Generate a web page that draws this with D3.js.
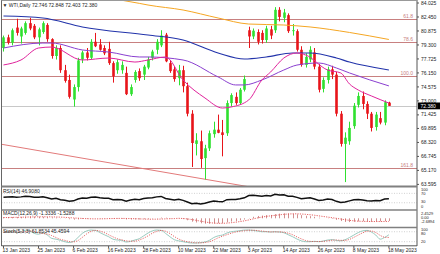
<!DOCTYPE html>
<html>
<head>
<meta charset="utf-8">
<script src="https://cdn.jsdelivr.net/npm/d3@7"></script>
<style>
  html, body { margin: 0; padding: 0; background: #fff; }
  svg { display: block; font-family: "Liberation Sans", Arial, sans-serif; }
</style>
</head>
<body>
<div id="chart"></div>
<script>
// daily bars, WTI
const dates = [
  '2023-01-13','2023-01-16','2023-01-17','2023-01-18','2023-01-19','2023-01-20','2023-01-23','2023-01-24','2023-01-25','2023-01-26',
  '2023-01-27','2023-01-30','2023-01-31','2023-02-01','2023-02-02','2023-02-03','2023-02-06','2023-02-07','2023-02-08','2023-02-09',
  '2023-02-10','2023-02-13','2023-02-14','2023-02-15','2023-02-16','2023-02-17','2023-02-20','2023-02-21','2023-02-22','2023-02-23',
  '2023-02-24','2023-02-27','2023-02-28','2023-03-01','2023-03-02','2023-03-03','2023-03-06','2023-03-07','2023-03-08','2023-03-09',
  '2023-03-10','2023-03-13','2023-03-14','2023-03-15','2023-03-16','2023-03-17','2023-03-20','2023-03-21','2023-03-22','2023-03-23',
  '2023-03-24','2023-03-27','2023-03-28','2023-03-29','2023-03-30','2023-03-31','2023-04-03','2023-04-04','2023-04-05','2023-04-06',
  '2023-04-10','2023-04-11','2023-04-12','2023-04-13','2023-04-14','2023-04-17','2023-04-18','2023-04-19','2023-04-20','2023-04-21',
  '2023-04-24','2023-04-25','2023-04-26','2023-04-27','2023-04-28','2023-05-01','2023-05-02','2023-05-03','2023-05-04','2023-05-05',
  '2023-05-08','2023-05-09','2023-05-10','2023-05-11','2023-05-12','2023-05-15','2023-05-16','2023-05-17','2023-05-18'
];
const opens = [
  78.9,80.1,79.5,81.2,80.2,80.6,81.7,81.4,80.1,80.7,
  81.5,79.9,78.0,78.9,76.4,75.3,73.1,74.5,77.6,78.4,
  77.8,79.6,79.3,78.9,78.8,77.2,76.4,76.4,76.1,73.7,
  75.3,76.3,75.9,76.7,77.8,78.7,79.2,80.4,77.2,76.5,
  75.5,76.4,74.6,71.5,68.1,68.4,66.5,67.6,69.2,69.7,
  69.4,69.3,72.7,73.4,72.7,74.2,80.9,80.2,80.7,80.6,
  79.8,81.0,80.9,83.2,82.3,82.6,80.8,80.8,78.7,77.0,
  77.6,78.4,76.8,74.3,75.3,76.5,75.9,71.5,68.1,68.4,
  70.1,72.5,73.5,72.6,71.5,70.0,71.0,70.5,72.746
];
const highs = [
  80.3,80.4,81.1,82.2,81.3,81.9,82.3,81.6,81.2,81.9,
  81.7,80.0,79.2,79.2,77.0,75.9,74.8,77.8,78.6,78.9,
  79.9,80.6,79.9,79.2,79.6,77.4,77.6,77.4,76.8,74.8,
  76.4,76.6,77.0,77.9,78.7,79.9,80.9,80.6,77.5,76.8,
  77.0,76.9,75.0,71.9,69.3,69.6,68.0,69.6,70.6,71.4,
  70.8,73.0,73.8,73.9,74.4,75.8,81.3,81.1,81.0,80.9,
  81.4,81.4,83.5,83.5,83.3,82.8,81.6,81.0,79.1,78.3,
  79.1,78.9,77.1,75.6,76.8,76.9,76.2,71.8,69.4,70.6,
  72.7,73.9,74.0,72.9,71.7,71.7,71.7,73.0,72.848
];
const lows = [
  78.5,79.3,79.2,80.3,79.4,80.4,80.9,79.9,79.2,80.5,
  79.6,77.7,77.6,76.1,75.0,73.2,72.3,74.0,77.2,77.5,
  77.6,79.0,78.6,78.1,77.0,75.0,76.0,76.0,73.6,73.5,
  75.0,75.2,75.3,76.5,77.5,78.2,79.0,77.3,76.1,75.1,
  74.7,73.9,71.2,65.5,66.8,65.4,64.1,67.3,68.8,69.3,
  66.7,69.0,72.3,72.5,72.5,74.0,78.9,79.9,79.3,79.4,
  79.5,79.9,80.6,81.9,81.8,80.6,80.3,78.5,76.8,76.7,
  77.3,76.5,73.9,73.9,74.9,75.4,71.2,67.8,63.8,68.0,
  69.8,72.2,72.0,70.9,69.5,69.6,70.3,70.2,72.403
];
const closes = [
  80.1,79.5,80.9,80.6,81.1,81.7,81.1,80.1,81.0,81.7,
  79.9,78.0,78.9,76.4,75.2,73.4,74.5,77.5,78.4,77.8,
  79.6,79.1,78.7,78.3,77.2,75.7,77.3,77.0,73.7,74.5,
  76.2,75.5,76.8,77.6,78.5,79.6,80.3,77.4,76.3,75.4,
  76.4,74.6,71.5,68.2,68.5,66.4,67.6,69.3,69.7,69.35,
  69.1,72.7,73.6,72.7,74.2,75.4,80.2,80.85,79.6,79.8,
  81.1,80.3,83.2,82.4,82.9,80.8,80.9,78.7,77.0,77.9,
  78.7,76.8,74.2,75.3,76.5,75.9,71.5,68.1,68.8,69.9,
  72.4,73.5,72.6,71.5,69.9,71.4,70.5,72.8,72.380
];

// moving averages (sparse points)
const maOrangeDates = ['2023-02-10','2023-02-21','2023-02-27','2023-03-01','2023-03-13','2023-03-23','2023-04-03','2023-04-14','2023-04-24','2023-05-05','2023-05-18'];
const maOrangeVals  = [84.85,84.28,83.93,83.74,83.18,82.28,81.60,81.49,81.27,80.65,79.86];
const maBlueDates = ['2023-01-13','2023-01-26','2023-02-08','2023-03-01','2023-03-13','2023-03-23','2023-03-31','2023-04-10','2023-04-18','2023-04-24','2023-05-02','2023-05-05','2023-05-18'];
const maBlueVals  = [82.50,82.28,81.27,80.36,79.80,78.34,77.66,77.89,78.34,78.34,77.78,77.32,76.42];
const maPurpleDates = ['2023-01-13','2023-01-26','2023-01-30','2023-02-08','2023-02-16','2023-02-27','2023-03-01','2023-03-13','2023-03-23','2023-03-29','2023-03-31','2023-04-06','2023-04-14','2023-04-19','2023-04-26','2023-05-02','2023-05-05','2023-05-18'];
const maPurpleVals  = [78.90,79.46,79.46,78.68,78.45,77.89,77.89,77.55,75.64,74.74,74.74,75.30,76.42,76.98,77.21,76.65,76.09,74.63];
const maPinkDates = ['2023-01-13','2023-01-19','2023-01-25','2023-01-30','2023-02-08','2023-02-16','2023-02-24','2023-03-01','2023-03-07','2023-03-13','2023-03-20','2023-03-24','2023-03-28','2023-04-03','2023-04-06','2023-04-11','2023-04-14','2023-04-19','2023-04-21','2023-04-28','2023-05-03','2023-05-05','2023-05-09','2023-05-12','2023-05-18'];
const maPinkVals  = [76.99,77.55,78.90,79.01,77.55,77.77,77.32,77.55,77.89,75.30,73.27,72.14,72.26,73.05,75.30,76.20,77.77,78.34,78.11,76.42,76.09,74.85,74.17,73.50,72.70];

// fibo levels and trend line
const fibLabels = ['61.8', '78.6', '100.0', '161.8'];
const fibPrices = [82.22, 79.58, 75.80, 65.44];
const trendDates = ['2023-01-13', '2023-03-31'];
const trendVals = [68.02, 63.36];

// price axis
const priceTickLabels = ['84.025','82.450','80.875','79.300','77.725','76.150','74.575','73.000','71.425','69.895','68.320','66.745','65.170','63.595'];
const lastPrice = 72.380;

// indicators, one value per bar
const rsi = [
  53,54,55,53,55,58,57,53,53,55,
  51,46,49,43,41,36,38,46,50,49,
  53,54,51,49,49,43,44,43,37,42,
  45,43,48,50,51,55,57,48,45,42,
  45,40,33,26,28,25,28,33,37,35,
  34,43,44,44,47,51,61,62,60,58,
  61,59,66,63,64,58,58,53,47,49,
  51,46,40,42,46,44,36,31,33,38,
  43,44,42,39,37,40,39,46,46.908
];
const macd = [
  0.55,0.60,0.65,0.65,0.70,0.80,0.85,0.80,0.75,0.75,
  0.65,0.45,0.35,0.10,-0.10,-0.45,-0.65,-0.55,-0.35,-0.25,
  -0.05,0.10,0.15,0.15,0.10,-0.10,-0.20,-0.30,-0.55,-0.60,
  -0.55,-0.55,-0.45,-0.30,-0.15,0.10,0.35,0.30,0.15,-0.05,
  -0.10,-0.40,-0.95,-1.65,-2.05,-2.45,-2.65,-2.69,-2.55,-2.45,
  -2.35,-1.95,-1.60,-1.35,-1.00,-0.60,0.15,0.75,1.15,1.35,
  1.55,1.65,2.05,2.30,2.45,2.35,2.20,1.95,1.55,1.25,
  1.05,0.75,0.30,0.00,-0.10,-0.25,-0.75,-1.35,-1.80,-1.85,
  -1.70,-1.50,-1.45,-1.50,-1.60,-1.55,-1.50,-1.35,-1.3336
];
const macdSignal = [
  0.35,0.40,0.45,0.50,0.55,0.60,0.65,0.70,0.72,0.74,
  0.73,0.70,0.65,0.58,0.48,0.33,0.18,0.05,-0.07,-0.17,
  -0.25,-0.28,-0.27,-0.23,-0.15,-0.10,-0.06,-0.05,-0.08,-0.13,
  -0.20,-0.28,-0.35,-0.42,-0.45,-0.42,-0.35,-0.27,-0.20,-0.13,
  0.00,-0.10,-0.30,-0.60,-1.00,-1.40,-1.80,-2.10,-2.35,-2.45,
  -2.45,-2.35,-2.15,-1.90,-1.60,-1.25,-0.80,-0.30,0.20,0.60,
  0.95,1.20,1.45,1.70,1.95,2.10,2.20,2.20,2.10,1.95,
  1.75,1.50,1.20,0.90,0.60,0.30,0.00,-0.35,-0.70,-1.00,
  -1.25,-1.40,-1.50,-1.55,-1.57,-1.58,-1.57,-1.55,-1.5288
];
const stochK = [
  80,78,82,75,80,88,85,70,65,72,
  60,40,35,28,20,15,22,45,70,85,
  90,88,75,62,50,35,30,28,18,22,
  30,38,55,72,85,90,88,70,50,32,
  25,20,15,12,12,14,18,28,45,55,
  60,72,80,83,86,90,90,88,84,80,
  80,78,80,78,74,62,50,36,25,20,
  20,22,20,24,30,32,28,25,32,45,
  60,75,85,88,78,60,35,45,61.8534
];
const stochD = [
  78,79,80,78,79,81,84,81,73,69,
  66,57,45,34,28,21,19,27,46,67,
  82,88,84,75,62,49,38,31,25,23,
  23,30,41,55,71,82,88,83,69,51,
  36,26,20,16,13,13,15,20,30,43,
  53,62,71,78,83,86,89,89,87,84,
  81,79,79,79,77,71,62,49,37,27,
  22,21,21,22,25,29,30,28,28,34,
  46,60,73,83,84,75,58,47,45.4594
];
const rsiLevels = [70, 30];
const rsiLabels = ['100', '70', '30', '0'];
const macdLabels = ['2.4529', '0.00', '-2.6894'];
const stochLevels = [80, 20];
const stochLabels = ['100', '80', '20'];

const labelDates = ['2023-01-13','2023-01-25','2023-02-06','2023-02-16','2023-02-28','2023-03-10','2023-03-22','2023-04-03','2023-04-14','2023-04-26','2023-05-08','2023-05-18'];

// ---------- layout ----------
const W = 440, H = 254;
const plotL = 1.5, plotR = 417;
const main = { top: 1, bottom: 186 };
const rsiP = { top: 187.5, bottom: 209.5 };
const macdP = { top: 210.5, bottom: 227 };
const stP = { top: 228, bottom: 245.5 };

const bull = '#2fe02f', bear = '#e8141a';
const fibColor = '#c88080';
const textColor = '#222';

const svg = d3.select('#chart').append('svg')
  .attr('width', W)
  .attr('height', H)
  .style('background', '#fff');

const parse = d3.timeParse('%Y-%m-%d');
const fmtDate = d3.timeFormat('%-d %b %Y');

const x = d3.scaleBand().domain(dates).range([1.3, 391.1]).padding(0);
const xc = d => x(d) + x.bandwidth() / 2;
const y = d3.scaleLinear().domain([63.595, 84.025]).range([183.9, 2.5]);
const rsiY = d3.scaleLinear().domain([0, 100]).range([209.8, 186.3]);
const macdY = d3.scaleLinear().domain([-2.6894, 2.4529]).range([223.8, 213.3]);
const stY = d3.scaleLinear().domain([0, 100]).range([245, 228.4]);

const defs = svg.append('defs');
function clip(id, p) {
  defs.append('clipPath').attr('id', id)
    .append('rect')
    .attr('x', plotL).attr('y', p.top)
    .attr('width', plotR - plotL).attr('height', p.bottom - p.top);
  return svg.append('g').attr('clip-path', `url(#${id})`);
}

// ---------- main panel ----------
const mg = clip('clipMain', main);

// fibo lines
const fibs = fibLabels.map((l, i) => ({ label: l, price: fibPrices[i] }));
mg.selectAll('line.fib').data(fibs).join('line')
  .attr('class', 'fib')
  .attr('x1', plotL).attr('x2', plotR)
  .attr('y1', d => Math.round(y(d.price)) + 0.5)
  .attr('y2', d => Math.round(y(d.price)) + 0.5)
  .attr('stroke', fibColor).attr('stroke-width', 1);
mg.selectAll('text.fib').data(fibs).join('text')
  .attr('class', 'fib')
  .attr('x', 413).attr('y', d => y(d.price) - 0.8)
  .attr('text-anchor', 'end')
  .attr('font-size', 5).attr('fill', fibColor)
  .text(d => d.label);

// current price line
mg.append('line')
  .attr('x1', plotL).attr('x2', plotR)
  .attr('y1', Math.round(y(lastPrice)) + 0.5).attr('y2', Math.round(y(lastPrice)) + 0.5)
  .attr('stroke', '#c8c8c8').attr('stroke-width', 1);

// trend line (ray through two anchors)
{
  const x1 = xc(trendDates[0]), y1 = y(trendVals[0]);
  const x2 = xc(trendDates[1]), y2 = y(trendVals[1]);
  const k = (y2 - y1) / (x2 - x1);
  mg.append('line')
    .attr('x1', plotL).attr('y1', y1 + (plotL - x1) * k)
    .attr('x2', plotR).attr('y2', y1 + (plotR - x1) * k)
    .attr('stroke', '#e27a7a').attr('stroke-width', 1);
}

// candles
const bars = dates.map((d, i) => ({ d, o: opens[i], h: highs[i], l: lows[i], c: closes[i] }));
const bw = 2.6;
const cg = mg.append('g');
cg.selectAll('line').data(bars).join('line')
  .attr('x1', d => Math.round(xc(d.d)) + 0.5)
  .attr('x2', d => Math.round(xc(d.d)) + 0.5)
  .attr('y1', d => y(d.h)).attr('y2', d => y(d.l))
  .attr('stroke', d => d.c >= d.o ? bull : bear)
  .attr('stroke-width', 1);
cg.selectAll('rect').data(bars).join('rect')
  .attr('x', d => Math.round(xc(d.d)) + 0.5 - bw / 2)
  .attr('width', bw)
  .attr('y', d => y(Math.max(d.o, d.c)))
  .attr('height', d => Math.max(0.8, Math.abs(y(d.o) - y(d.c))))
  .attr('fill', d => d.c >= d.o ? bull : bear);

// moving averages
const maLine = d3.line().x(d => xc(d[0])).y(d => y(d[1])).curve(d3.curveMonotoneX);
const mas = [
  { dates: maOrangeDates, vals: maOrangeVals, color: '#f5a623', w: 1 },
  { dates: maBlueDates, vals: maBlueVals, color: '#2233aa', w: 1.1 },
  { dates: maPurpleDates, vals: maPurpleVals, color: '#8a3fd0', w: 1 },
  { dates: maPinkDates, vals: maPinkVals, color: '#e0239c', w: 1 }
];
mas.forEach(m => {
  mg.append('path')
    .datum(m.dates.map((d, i) => [d, m.vals[i]]))
    .attr('d', maLine)
    .attr('fill', 'none')
    .attr('stroke', m.color)
    .attr('stroke-width', m.w);
});

// header
svg.append('text')
  .attr('x', 2.5).attr('y', 6.6)
  .attr('font-size', 5).attr('fill', textColor)
  .text('\u25BC WTI,Daily  72.746 72.848 72.403 72.380');

// ---------- RSI ----------
const rg = clip('clipRsi', rsiP);
rg.selectAll('line').data(rsiLevels).join('line')
  .attr('x1', plotL).attr('x2', plotR)
  .attr('y1', d => rsiY(d)).attr('y2', d => rsiY(d))
  .attr('stroke', '#b0b0b0').attr('stroke-width', 0.6)
  .attr('stroke-dasharray', '1,1.5');
rg.append('path')
  .datum(rsi)
  .attr('d', d3.line().x((v, i) => xc(dates[i])).y(v => rsiY(v)))
  .attr('fill', 'none').attr('stroke', '#111').attr('stroke-width', 1.5);
svg.append('text').attr('x', 3).attr('y', 192.8)
  .attr('font-size', 5).attr('fill', textColor)
  .text('RSI(14) 46.9080');

// ---------- MACD ----------
const mcg = clip('clipMacd', macdP);
mcg.selectAll('line.h').data(macd).join('line')
  .attr('class', 'h')
  .attr('x1', (v, i) => Math.round(xc(dates[i])) + 0.5)
  .attr('x2', (v, i) => Math.round(xc(dates[i])) + 0.5)
  .attr('y1', macdY(0)).attr('y2', v => macdY(v))
  .attr('stroke', '#d09090').attr('stroke-width', 1);
mcg.append('path')
  .datum(macdSignal)
  .attr('d', d3.line().x((v, i) => xc(dates[i])).y(v => macdY(v)))
  .attr('fill', 'none').attr('stroke', '#e03c3c').attr('stroke-width', 0.8)
  .attr('stroke-dasharray', '1.2,1.2');
svg.append('text').attr('x', 3).attr('y', 215.4)
  .attr('font-size', 5).attr('fill', textColor)
  .text('MACD(12,26,9) -1.3336 -1.5288');

// ---------- Stochastic ----------
const sg = clip('clipSt', stP);
sg.selectAll('line').data(stochLevels).join('line')
  .attr('x1', plotL).attr('x2', plotR)
  .attr('y1', d => stY(d)).attr('y2', d => stY(d))
  .attr('stroke', '#b0b0b0').attr('stroke-width', 0.6)
  .attr('stroke-dasharray', '1,1.5');
sg.append('path')
  .datum(stochK)
  .attr('d', d3.line().x((v, i) => xc(dates[i])).y(v => stY(v)).curve(d3.curveMonotoneX))
  .attr('fill', 'none').attr('stroke', '#8fc4b8').attr('stroke-width', 0.9);
sg.append('path')
  .datum(stochD)
  .attr('d', d3.line().x((v, i) => xc(dates[i])).y(v => stY(v)).curve(d3.curveMonotoneX))
  .attr('fill', 'none').attr('stroke', '#e04848').attr('stroke-width', 0.8)
  .attr('stroke-dasharray', '1.2,1.2');
svg.append('text').attr('x', 3).attr('y', 232.8)
  .attr('font-size', 5).attr('fill', textColor)
  .text('Stoch(5,3,3) 61.8534 45.4594');

// ---------- frames ----------
const frame = svg.append('g').attr('fill', 'none');
frame.append('line').attr('x1', plotL).attr('x2', plotL).attr('y1', 0).attr('y2', 246)
  .attr('stroke', '#666').attr('stroke-width', 1);
frame.append('line').attr('x1', plotR).attr('x2', plotR).attr('y1', 0).attr('y2', 246)
  .attr('stroke', '#555').attr('stroke-width', 1);
frame.append('line').attr('x1', plotL).attr('x2', plotR).attr('y1', 0.5).attr('y2', 0.5)
  .attr('stroke', '#999').attr('stroke-width', 1);
[[186.5, 2], [210, 1.6], [227.5, 1.6]].forEach(([yy, w]) => {
  frame.append('line').attr('x1', plotL).attr('x2', plotR).attr('y1', yy).attr('y2', yy)
    .attr('stroke', '#808080').attr('stroke-width', w);
});
frame.append('line').attr('x1', plotL).attr('x2', plotR).attr('y1', 245.8).attr('y2', 245.8)
  .attr('stroke', '#555').attr('stroke-width', 1);

// price axis
const priceTicks = priceTickLabels.map(Number);
svg.append('g')
  .attr('transform', `translate(${plotR},0)`)
  .call(d3.axisRight(y).tickValues(priceTicks).tickSize(2).tickFormat((d, i) => priceTickLabels[i]))
  .call(g => g.select('.domain').remove())
  .call(g => g.selectAll('line').attr('stroke', '#555'))
  .call(g => g.selectAll('text').attr('x', 4).attr('font-size', 5).attr('fill', textColor)
    .attr('font-family', '"Liberation Sans", Arial, sans-serif'));

// last price box
svg.append('rect').attr('x', 418).attr('y', y(lastPrice) - 3.4)
  .attr('width', 22).attr('height', 6.8).attr('fill', '#000');
svg.append('text').attr('x', 420.5).attr('y', y(lastPrice)).attr('dy', '0.35em')
  .attr('font-size', 5).attr('fill', '#fff').text('72.380');

// indicator scale labels
const smallLabel = (yy, t) => svg.append('text').attr('x', 421).attr('y', yy).attr('dy', '0.35em')
  .attr('font-size', 4).attr('fill', textColor).text(t);
[189.3, 193.7, 201.9, 206.3].forEach((yy, i) => smallLabel(yy, rsiLabels[i]));
[213.2, 217.5, 221.8].forEach((yy, i) => smallLabel(yy, macdLabels[i]));
[229.7, 234.0, 241.7].forEach((yy, i) => smallLabel(yy, stochLabels[i]));

// date axis
svg.append('g')
  .attr('transform', 'translate(0,246)')
  .call(d3.axisBottom(x).tickValues(labelDates).tickSize(2).tickFormat(d => fmtDate(parse(d))))
  .call(g => g.select('.domain').remove())
  .call(g => g.selectAll('line').attr('stroke', '#555'))
  .call(g => g.selectAll('text')
    .attr('x', -1).attr('y', 2.2).attr('dy', '0.71em')
    .attr('text-anchor', 'start')
    .attr('font-size', 5).attr('fill', textColor)
    .attr('font-family', '"Liberation Sans", Arial, sans-serif'));
</script>
</body>
</html>
